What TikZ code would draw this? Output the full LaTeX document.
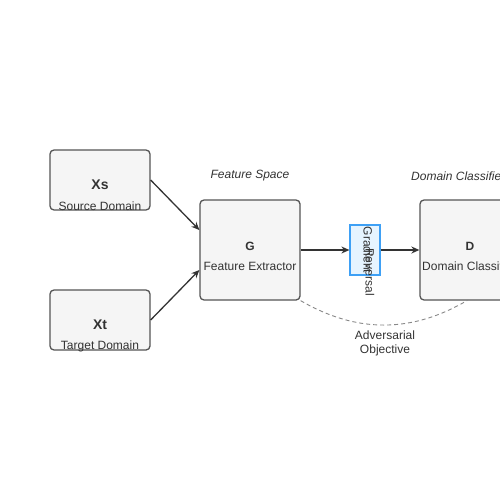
\documentclass[tikz,border=0pt]{standalone}
\usepackage{fontspec}
\setmainfont{Liberation Sans}
\usetikzlibrary{arrows.meta}
\definecolor{boxfill}{HTML}{F5F5F5}
\definecolor{boxline}{HTML}{555555}
\definecolor{txt}{HTML}{333333}
\definecolor{grfill}{HTML}{E6F4FF}
\definecolor{grline}{HTML}{3EA0F5}
\definecolor{dashc}{HTML}{888888}
\tikzset{
  box/.style={draw=boxline, fill=boxfill, line width=1.3pt, rounded corners=4pt, minimum width=100pt, inner sep=0pt},
  lbl/.style={text=txt, font=\fontsize{12}{14}\selectfont, inner sep=0pt},
  ital/.style={text=txt, font=\fontsize{12}{14}\selectfont\itshape, inner sep=0pt},
  conn/.style={draw=txt, line width=1.3pt, -{Stealth[length=8pt,width=7pt]}},
}
\begin{document}
\begin{tikzpicture}[x=1pt,y=-1pt]
\useasboundingbox (0,0) rectangle (500,500);
\clip (0,0) rectangle (500,500);
\fill[white] (0,0) rectangle (500,500);
% boxes
\node[box, minimum height=60pt] (xs) at (100,180) {};
\node[box, minimum height=60pt] (xt) at (100,320) {};
\node[box, minimum height=100pt] (g) at (250,250) {};
\node[box, minimum height=100pt] (d) at (470,250) {};
\node[draw=grline, fill=grfill, line width=1.2pt, minimum width=30pt, minimum height=50pt, inner sep=0pt] (gr) at (365,250) {};
% texts
\node[lbl, font=\fontsize{14}{16}\selectfont\bfseries] (xsT) at (100,185) {Xs};
\node[lbl] (xsS) at (100,206) {Source Domain};
\node[lbl, font=\fontsize{14}{16}\selectfont\bfseries] (xtT) at (100,325) {Xt};
\node[lbl] (xtS) at (100,346) {Target Domain};
\node[lbl, font=\fontsize{12}{14}\selectfont\bfseries] (gT) at (250,246) {G};
\node[lbl] (gS) at (250,266) {Feature Extractor};
\node[lbl, font=\fontsize{12}{14}\selectfont\bfseries] (dT) at (470,246) {D};
\node[lbl, anchor=west] (dS) at (422,266) {Domain Classifier};
\node[ital] (fs) at (250,176) {Feature Space};
\node[ital, anchor=west] (dc) at (411,176) {Domain Classifier};
\node[lbl, rotate=-90] (gr1) at (368,250) {Gradient};
\node[lbl, rotate=-90] (gr2) at (370,272) {Reversal};
\node[lbl, align=center, font=\fontsize{12}{14}\selectfont] (adv) at (385,343) {Adversarial\\Objective};
% connectors
\draw[conn] (xs.east) -- ([yshift=20pt]g.west);
\draw[conn] (xt.east) -- ([yshift=-20pt]g.west);
\draw[conn] (g.east) -- (gr.west);
\draw[conn] (gr.east) -- (d.west);
\coordinate (ce) at (468,300);
\draw[draw=dashc, line width=0.9pt, dash pattern=on 4pt off 3pt] (g.south east) .. controls (356.7,333.3) and (412,333.3) .. (ce);
\end{tikzpicture}
\end{document}
